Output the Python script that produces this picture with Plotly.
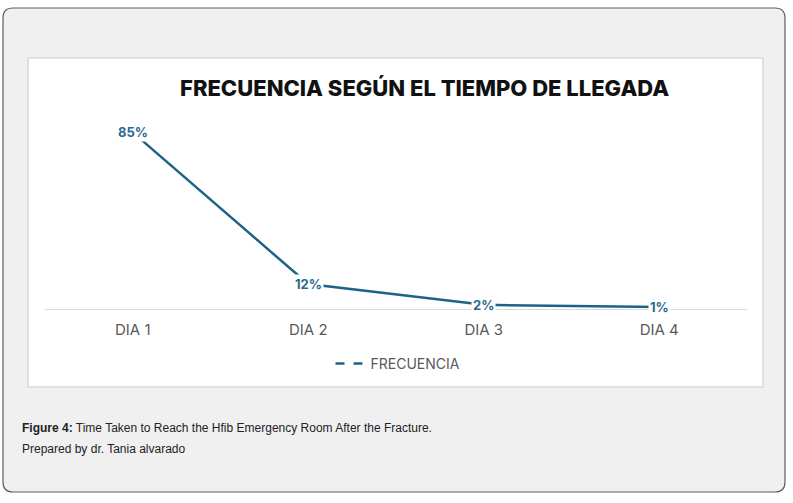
import plotly.graph_objects as go

categories = ["DIA 1", "DIA 2", "DIA 3", "DIA 4"]
frecuencia = [85, 12, 2, 1]
labels = ["85%", "12%", "2%", "1%"]

W, H = 793, 503
# plot area in pixels
L, R, T, B = 45, 747, 122, 309
Y_MAX = 90


def px(x):
    return (x - L) / (R - L)


def py(y):
    return (B - y) / (B - T)


def round_rect(x0, y0, x1, y1, r):
    return (
        f"M {px(x0 + r)} {py(y0)} L {px(x1 - r)} {py(y0)} "
        f"Q {px(x1)} {py(y0)} {px(x1)} {py(y0 + r)} "
        f"L {px(x1)} {py(y1 - r)} Q {px(x1)} {py(y1)} {px(x1 - r)} {py(y1)} "
        f"L {px(x0 + r)} {py(y1)} Q {px(x0)} {py(y1)} {px(x0)} {py(y1 - r)} "
        f"L {px(x0)} {py(y0 + r)} Q {px(x0)} {py(y0)} {px(x0 + r)} {py(y0)} Z"
    )


LINE = "#1f6288"
fig = go.Figure()
fig.add_trace(go.Scatter(
    x=categories, y=frecuencia, mode="lines",
    line={"color": LINE, "width": 2.5},
    showlegend=False, hoverinfo="skip",
))
# legend entry (rendered dashed in the source)
fig.add_trace(go.Scatter(
    x=[None], y=[None], mode="lines", name="FRECUENCIA",
    line={"color": LINE, "width": 2.5, "dash": "dash"},
))

for cat, val, lab in zip(categories, frecuencia, labels):
    fig.add_annotation(
        x=cat, y=val, text=f"<b>{lab}</b>", showarrow=False,
        bgcolor="white", borderpad=1,
        font={"family": "Inter", "size": 13, "color": "#2b6a8f"},
    )

shapes = [
    dict(type="path", xref="paper", yref="paper", path=round_rect(3, 8, 785, 492, 10),
         fillcolor="#f0f0f0", line={"color": "#5f5f5f", "width": 1.2}, layer="below"),
    dict(type="rect", xref="paper", yref="paper", x0=px(28), x1=px(763), y0=py(387), y1=py(58),
         fillcolor="white", line={"color": "#d9d9d9", "width": 1.5}, layer="below"),
]

fig.add_annotation(
    xref="paper", yref="paper", x=px(424), y=py(88), yanchor="middle", showarrow=False,
    text="FRECUENCIA SEGÚN EL TIEMPO DE LLEGADA",
    font={"family": "Inter", "size": 22, "color": "#111111", "weight": 800},
)
fig.add_annotation(
    xref="paper", yref="paper", x=px(20), y=py(428), xanchor="left", yanchor="middle",
    showarrow=False,
    text="<b>Figure 4:</b> Time Taken to Reach the Hfib Emergency Room After the Fracture.",
    font={"family": "Liberation Sans", "size": 12, "color": "#222222"},
)
fig.add_annotation(
    xref="paper", yref="paper", x=px(20), y=py(449), xanchor="left", yanchor="middle",
    showarrow=False,
    text="Prepared by dr. Tania alvarado",
    font={"family": "Liberation Sans", "size": 12, "color": "#222222"},
)

fig.update_layout(
    width=W, height=H,
    margin={"l": L, "r": W - R, "t": T, "b": H - B},
    paper_bgcolor="white", plot_bgcolor="rgba(0,0,0,0)",
    shapes=shapes,
    xaxis={"range": [-0.5, 3.5], "showgrid": False, "showline": True, "linecolor": "#d9d9d9",
           "linewidth": 1.2, "ticks": "", "ticklabelstandoff": 7,
           "tickfont": {"family": "Inter", "size": 15, "color": "#595959"}},
    yaxis={"range": [0, Y_MAX], "visible": False, "showgrid": False, "zeroline": False},
    legend={"orientation": "h", "x": px(398), "xanchor": "center", "y": py(364), "yanchor": "middle",
            "bgcolor": "rgba(0,0,0,0)",
            "font": {"family": "Inter", "size": 14, "color": "#595959"}},
)

fig.write_html("out.html", config={"displayModeBar": False},
               post_script="document.body.style.margin='0';")
